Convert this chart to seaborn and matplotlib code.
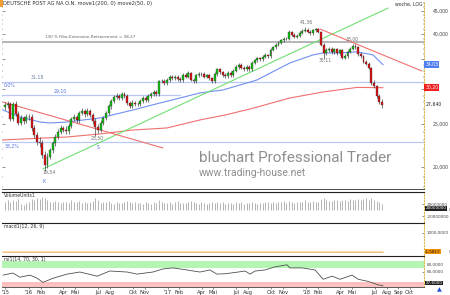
import numpy as np
import pandas as pd
import matplotlib
matplotlib.use("Agg")
import matplotlib.pyplot as plt
import matplotlib.ticker as mticker
import matplotlib.transforms as mtrans
import matplotlib.patches as mpatches
import seaborn as sns

sns.set_style("white")
plt.rcParams['font.family'] = ['DejaVu Sans']

# ---------------- data (weekly, first week = 2015-10-30) ----------------
start_date = "2015-10-30"
opens = [
27.3, 27.6, 27.8, 25.7, 27.8, 26.4, 25.2, 25.8, 25.4, 25.9,
26.0, 24.5, 23.6, 22.8, 22.7, 21.3, 20.2, 21.1, 21.8, 22.6,
23.4, 24.0, 24.5, 24.3, 24.1, 24.8, 25.7, 25.9, 25.5, 26.5,
26.8, 26.4, 26.8, 26.2, 25.4, 24.6, 24.3, 25.2, 25.8, 26.5,
27.4, 28.2, 28.8, 29.0, 28.6, 29.2, 29.0, 27.9, 27.5, 27.9,
27.8, 27.7, 28.2, 28.6, 28.3, 29.0, 29.3, 29.6, 29.3, 31.2,
31.3, 30.9, 31.4, 32.0, 31.7, 31.9, 31.6, 31.4, 32.3, 32.0,
32.6, 31.5, 31.3, 32.2, 32.5, 32.4, 32.0, 32.2, 31.7, 31.3,
32.4, 33.2, 32.7, 32.3, 32.1, 32.6, 32.3, 33.0, 33.6, 34.0,
33.5, 33.2, 33.6, 33.3, 34.4, 34.8, 35.2, 35.0, 35.5, 35.8,
35.6, 36.8, 37.3, 37.8, 38.2, 38.6, 38.9, 39.0, 40.4, 39.8,
39.4, 39.6, 40.2, 40.6, 40.8, 40.4, 40.1, 40.7, 40.9, 40.4,
37.8, 36.2, 36.8, 37.0, 36.4, 36.9, 36.2, 36.7, 35.3, 35.6,
36.4, 37.0, 37.6, 37.3, 36.0, 35.6, 34.6, 34.2, 33.5, 31.0,
30.5, 29.0, 28.0]
closes = [
27.6, 27.8, 25.7, 27.8, 26.4, 25.2, 25.8, 25.4, 25.9, 26.0,
24.5, 23.6, 22.8, 22.7, 21.3, 20.2, 21.1, 21.8, 22.6, 23.4,
24.0, 24.5, 24.3, 24.1, 24.8, 25.7, 25.9, 25.5, 26.5, 26.8,
26.4, 26.8, 26.2, 25.4, 24.6, 24.3, 25.2, 25.8, 26.5, 27.4,
28.2, 28.8, 29.0, 28.6, 29.2, 29.0, 27.9, 27.5, 27.9, 27.8,
27.7, 28.2, 28.6, 28.3, 29.0, 29.3, 29.6, 29.3, 31.2, 31.3,
30.9, 31.4, 32.0, 31.7, 31.9, 31.6, 31.4, 32.3, 32.0, 32.6,
31.5, 31.3, 32.2, 32.5, 32.4, 32.0, 32.2, 31.7, 31.3, 32.4,
33.2, 32.7, 32.3, 32.1, 32.6, 32.3, 33.0, 33.6, 34.0, 33.5,
33.2, 33.6, 33.3, 34.4, 34.8, 35.2, 35.0, 35.5, 35.8, 35.6,
36.8, 37.3, 37.8, 38.2, 38.6, 38.9, 39.0, 40.4, 39.8, 39.4,
39.6, 40.2, 40.6, 40.8, 40.4, 40.1, 40.7, 40.9, 40.4, 37.8,
36.2, 36.8, 37.0, 36.4, 36.9, 36.2, 36.7, 35.3, 35.6, 36.4,
37.0, 37.6, 37.3, 36.0, 35.6, 34.6, 34.2, 33.5, 31.0, 30.5,
29.0, 28.0, 27.64]
highs = [
28.0, 28.2, 28.1, 28.1, 28.2, 26.7, 26.2, 26.1, 26.3, 26.4,
26.3, 24.9, 24.0, 23.4, 23.0, 21.7, 21.5, 22.1, 22.9, 23.7,
24.4, 24.9, 24.8, 24.7, 25.1, 26.0, 26.3, 26.2, 26.8, 27.2,
27.1, 27.2, 27.0, 26.5, 25.8, 25.0, 25.5, 26.1, 26.8, 27.7,
28.5, 29.1, 29.4, 29.3, 29.6, 29.5, 29.3, 28.2, 28.3, 28.2,
28.1, 28.5, 29.0, 28.9, 29.3, 29.6, 29.9, 29.8, 31.5, 31.6,
31.6, 31.7, 32.3, 32.3, 32.2, 32.2, 31.9, 32.6, 32.6, 33.0,
32.8, 31.8, 32.5, 32.8, 32.8, 32.7, 32.5, 32.5, 32.0, 32.7,
33.5, 33.5, 33.0, 32.6, 32.9, 32.9, 33.3, 33.9, 34.3, 34.3,
33.8, 33.9, 33.9, 34.7, 35.1, 35.5, 35.5, 35.8, 36.1, 36.0,
37.1, 37.6, 38.1, 38.5, 38.9, 39.3, 39.4, 40.7, 40.6, 40.1,
39.9, 40.5, 40.9, 41.36, 41.1, 40.7, 41.0, 41.2, 41.1, 40.6,
38.1, 37.2, 37.4, 37.3, 37.2, 37.2, 37.0, 36.9, 35.9, 36.7,
37.4, 38.0, 37.9, 37.5, 36.3, 35.8, 34.9, 34.5, 33.7, 31.5,
30.7, 29.3, 28.5]
lows = [
26.9, 27.2, 25.4, 25.4, 26.1, 24.9, 24.9, 25.0, 25.1, 25.5,
24.1, 23.2, 22.4, 22.2, 21.0, 19.54, 19.9, 20.8, 21.5, 22.3,
23.1, 23.7, 24.0, 23.7, 23.8, 24.5, 25.4, 25.2, 25.2, 26.2,
26.0, 26.1, 25.9, 25.0, 23.50, 23.9, 24.0, 24.9, 25.5, 26.2,
27.1, 27.9, 28.5, 28.3, 28.3, 28.7, 27.6, 27.2, 27.2, 27.5,
27.4, 27.4, 27.9, 28.0, 28.0, 28.7, 29.0, 29.0, 29.0, 30.9,
30.6, 30.6, 31.1, 31.4, 31.4, 31.3, 31.1, 31.1, 31.7, 31.7,
31.2, 31.0, 31.0, 31.9, 32.1, 31.7, 31.7, 31.4, 31.0, 31.0,
32.1, 32.4, 32.0, 31.8, 31.8, 32.0, 32.0, 32.7, 33.3, 33.2,
32.9, 32.9, 33.0, 33.0, 34.1, 34.5, 34.7, 34.7, 35.2, 35.3,
35.3, 36.5, 37.0, 37.5, 37.9, 38.3, 38.6, 38.7, 39.5, 39.1,
39.1, 39.3, 39.9, 40.3, 40.1, 39.8, 39.8, 40.4, 40.1, 37.5,
35.11, 35.8, 36.4, 36.0, 36.0, 35.8, 35.8, 35.0, 35.0, 35.3,
36.1, 36.7, 37.0, 35.7, 35.3, 34.3, 33.9, 33.2, 30.6, 30.1,
28.7, 27.7, 27.2]
volume_mio = [
30, 34, 28, 36, 31, 38, 22, 18, 26, 30,
40, 36, 42, 38, 45, 43, 36, 30, 28, 33,
27, 25, 30, 28, 26, 34, 29, 27, 31, 25,
28, 24, 30, 33, 41, 36, 26, 29, 27, 31,
25, 23, 27, 24, 26, 30, 32, 27, 25, 28,
24, 26, 22, 27, 25, 23, 29, 24, 35, 28,
26, 25, 27, 22, 28, 33, 24, 26, 25, 29,
31, 27, 24, 22, 28, 25, 23, 26, 30, 24,
27, 25, 28, 23, 26, 24, 22, 29, 25, 27,
23, 26, 24, 28, 25, 22, 26, 24, 30, 27,
25, 28, 26, 29, 27, 31, 26, 33, 28, 26,
27, 30, 29, 34, 28, 27, 31, 29, 30, 38,
41, 35, 33, 31, 36, 34, 32, 37, 35, 33,
39, 36, 34, 40, 37, 38, 42, 35, 43, 36,
33, 30, 22]

# moving averages read at sample weeks
ma200_wk = [-0.8, 23.4, 35.8, 48.2, 61.0, 73.4, 82.9, 92.3, 107.3, 119.8, 132.6, 142.4]
ma200_val = [23.02, 23.38, 23.75, 24.24, 24.5, 25.54, 26.21, 27.04, 28.63, 29.54, 30.25, 30.20]
ma50_wk = [-0.8, 5.6, 13.2, 16.9, 23.4, 35.8, 48.2, 58.4, 65.9, 73.4, 82.1, 94.9, 107.3, 116.0, 119.8, 126.2, 132.6, 138.6, 142.4]
ma50_val = [26.9, 25.94, 25.27, 25.14, 25.27, 25.81, 26.9, 27.9, 28.63, 29.39, 29.85, 31.44, 34.35, 35.81, 36.19, 36.19, 36.38, 35.81, 34.03]

# trend lines (week, price)
green_tl_wk, green_tl_val = [14.3, 144.3], [19.8, 45.7]
red_tl1_wk, red_tl1_val = [-0.8, 59.5], [28.04, 22.08]
red_tl2_wk, red_tl2_val = [118.6, 157.0], [40.98, 32.94]

fibo_ext = 38.27
fib_levels = [31.18, 29.10, 22.81]

rsi_wk = [-0.8, 3.0, 5.6, 9.4, 12.1, 14.3, 18.1, 23.4, 28.2, 34.7, 39.5, 46.0, 49.7, 55.7, 59.5, 63.3,
          68.5, 73.4, 77.2, 79.8, 82.9, 87.8, 90.4, 92.3, 94.2, 97.9, 101.7, 106.2, 107.3, 111.9,
          116.8, 119.8, 123.2, 126.2, 130.7, 133.0, 136.7, 140.5, 142.4]
rsi_val = [50, 56, 44, 50, 41, 29, 41, 53, 59, 47, 62, 59, 53, 59, 68, 71,
           65, 59, 65, 53, 54, 59, 62, 53, 62, 65, 74, 80, 71, 71,
           65, 38, 47, 38, 50, 38, 32, 22, 19]
macd_wk = [-0.8, 142.4]
macd_val = [0.0, -1.58]

tick_dates = ["2015-10-30", "2016-01-01", "2016-02-01", "2016-04-01", "2016-05-01", "2016-07-01", "2016-08-01",
              "2016-10-01", "2016-11-01", "2017-01-01", "2017-02-01", "2017-04-01", "2017-05-01", "2017-07-01",
              "2017-08-01", "2017-10-01", "2017-11-01", "2018-01-01", "2018-02-01", "2018-04-01", "2018-05-01",
              "2018-07-01", "2018-08-01", "2018-09-01", "2018-10-01"]
tick_labels = ["'15", "'16", "Feb", "Apr", "Mai", "Jul", "Aug", "Okt", "Nov", "'17", "Feb", "Apr", "Mai",
               "Jul", "Aug", "Okt", "Nov", "'18", "Feb", "Apr", "Mai", "Jul", "Aug", "Sep", "Okt"]

# ---------------- figure ----------------
start = pd.Timestamp(start_date)
def wk(d):
    return (pd.Timestamp(d) - start).days / 7.0

W, H = 450, 295
fig = plt.figure(figsize=(4.5, 2.95), dpi=100)
fig.patch.set_facecolor("white")
def rect(x0, y0, x1, y1):
    return [x0 / W, 1 - y1 / H, (x1 - x0) / W, (y1 - y0) / H]

ax = fig.add_axes(rect(2, 2, 424, 189))
axv = fig.add_axes(rect(2, 192, 424, 221.5), sharex=ax)
axm = fig.add_axes(rect(2, 222.5, 424, 254.5), sharex=ax)
axr = fig.add_axes(rect(2, 255.5, 424, 286.5), sharex=ax)

FS = 3.3
FSS = 3.0
YEL = "#D8B848"
weeks = np.arange(len(closes))
o = np.array(opens); c = np.array(closes); hi = np.array(highs); lo = np.array(lows)

ax.set_yscale("log")
ax.set_ylim(17.84, 47.15)
ax.set_xlim(-1.13, 157.8)

# horizontal lines
ax.axhline(fibo_ext, color="#A8A8A8", lw=1.2, zorder=1)
ax.axhline(fib_levels[0], color="#B8C8F4", lw=0.9, zorder=1)
ax.plot([-1.13, 65.9], [fib_levels[1]] * 2, color="#B8C8F4", lw=0.9, zorder=1)
ax.axhline(fib_levels[2], color="#B8C8F4", lw=0.9, zorder=1)

# moving averages and trend lines
sns.lineplot(x=ma200_wk, y=ma200_val, ax=ax, color="#F07070", lw=0.8, zorder=2)
sns.lineplot(x=ma50_wk, y=ma50_val, ax=ax, color="#7090F0", lw=0.8, zorder=2)
sns.lineplot(x=green_tl_wk, y=green_tl_val, ax=ax, color="#70E070", lw=0.8, zorder=2)
sns.lineplot(x=red_tl1_wk, y=red_tl1_val, ax=ax, color="#F07070", lw=0.8, zorder=2)
sns.lineplot(x=red_tl2_wk, y=red_tl2_val, ax=ax, color="#F07070", lw=0.8, zorder=2)

# candles
up = c >= o
body_col = np.where(up, "#10C010", "#E01010")
ax.vlines(weeks, lo, hi, color="#303030", lw=0.45, zorder=3)
ax.bar(weeks, np.maximum(np.abs(c - o), 0.06), bottom=np.minimum(o, c), width=0.72,
       color=body_col, edgecolor="#303030", linewidth=0.25, zorder=4)

# axis styling main
ax.set_xlabel(""); ax.set_ylabel("")
ax.yaxis.tick_right()
ax.set_yticks([20, 25, 30, 35, 40, 45])
ax.set_yticklabels(["20,000", "25,000", "", "", "40,000", "45,000"])
ax.yaxis.set_minor_locator(mticker.FixedLocator(np.arange(18, 48, 1)))
ax.yaxis.set_minor_formatter(mticker.NullFormatter())
ax.tick_params(axis="y", which="major", length=2.0, width=0.4, pad=6, labelsize=FS, colors="#404040")
ax.tick_params(axis="y", which="minor", length=1.0, width=0.3, color="#404040")
ax.tick_params(axis="y", which="both", left=True, right=True, labelleft=False, labelright=True, direction="in")
ax.tick_params(axis="x", which="both", bottom=False, labelbottom=False)
for s in ["top", "left"]:
    ax.spines[s].set_visible(False)
ax.spines["right"].set_color(YEL); ax.spines["right"].set_linestyle(":"); ax.spines["right"].set_linewidth(0.8)
ax.spines["bottom"].set_color("#303030"); ax.spines["bottom"].set_linewidth(0.6)

# annotations main
tr = mtrans.blended_transform_factory(ax.transAxes, ax.transData)
ax.text(1.003, 34.03, "34,03", transform=tr, fontsize=FS, color="white", va="center", ha="left",
        bbox=dict(boxstyle="square,pad=0.2", fc="#4F7FF0", ec="none"), zorder=10)
ax.text(1.003, 30.20, "30,20", transform=tr, fontsize=FS, color="white", va="center", ha="left",
        bbox=dict(boxstyle="square,pad=0.2", fc="#F02020", ec="none"), zorder=10)
ax.text(1.003, 27.64, "27,640", transform=tr, fontsize=FS, color="#202020", va="center", ha="left", zorder=10)
ax.text(0.003, 0.99, "DEUTSCHE POST AG NA O.N. move1(200, 0) move2(50, 0)", transform=ax.transAxes,
        fontsize=3.7, color="#303030", va="center", ha="left")
ax.text(0.931, 0.99, "woche, LOG", transform=ax.transAxes, fontsize=FS, color="#303030", va="center", ha="left")
ax.text(15.2, 38.9, "130 % Fibo-Extension-Retracement = 38,27", fontsize=FSS, color="#606060", va="bottom", ha="left")
ax.text(9.5, 31.45, "31,18", fontsize=FS, color="#7080A0", va="bottom", ha="left")
ax.text(-0.5, 30.6, "0,0%", fontsize=FS, color="#5070E0", va="center", ha="left")
ax.text(18.5, 29.3, "29,10", fontsize=FS, color="#5070E0", va="bottom", ha="left")
ax.text(0.0, 22.3, "38,2%", fontsize=FS, color="#5070E0", va="center", ha="left")
ax.text(113.4, 42.5, "41,36", fontsize=FS, color="#707070", va="center", ha="center")
ax.text(130.7, 38.9, "38,00", fontsize=FS, color="#707070", va="center", ha="center")
ax.text(120.5, 34.9, "35,11", fontsize=FS, color="#707070", va="center", ha="center")
ax.text(34.7, 23.26, "23,50", fontsize=FS, color="#707070", va="center", ha="center")
ax.text(35.0, 22.19, "S", fontsize=FS, color="#5070E0", va="center", ha="center")
ax.text(16.6, 19.42, "19,54", fontsize=FS, color="#707070", va="center", ha="center")
ax.text(14.8, 18.53, "K", fontsize=FS, color="#5070E0", va="center", ha="center")

fig.text(199 / W, 1 - 158 / H, "bluchart Professional Trader", fontsize=11, color="#8E8E8E",
         family="Roboto", va="center", ha="left")
fig.text(199 / W, 1 - 173 / H, "www.trading-house.net", fontsize=7.5, color="#8E8E8E",
         family="Roboto", va="center", ha="left")

# volume panel
axv.vlines(weeks, 0, np.array(volume_mio) * 1e6, color="#A8A8A8", lw=0.6)
axv.set_ylim(-38.5e6, 63e6)
axv.set_yticks([-20e6, 20e6])
axv.set_yticklabels(["-20000000", "20000000"])
axv.text(0.005, 0.88, "VolumeUnits1", transform=axv.transAxes, fontsize=FS, color="#303030", va="center")
trv = mtrans.blended_transform_factory(axv.transAxes, axv.transData)
axv.text(1.003, 7e6, "20000000", transform=trv, fontsize=FSS, color="white", va="center", ha="left",
         bbox=dict(boxstyle="square,pad=0.1", fc="#202020", ec="none"))
axv.text(1.058, 0, "0", transform=trv, fontsize=FSS, color="#404040", va="center", ha="left")

# macd panel
sns.lineplot(x=macd_wk, y=macd_val, ax=axm, color="#F5B870", lw=1.0)
axm.set_ylim(-117, 1508)
axm.set_yticks([1000])
axm.set_yticklabels(["1000,0000"])
axm.text(0.005, 0.88, "macd1(12, 26, 9)", transform=axm.transAxes, fontsize=FS, color="#303030", va="center")
trm = mtrans.blended_transform_factory(axm.transAxes, axm.transData)
axm.text(1.003, 20, "-1,5817", transform=trm, fontsize=FSS, color="#202020", va="center", ha="left",
         bbox=dict(boxstyle="square,pad=0.1", fc="#F09000", ec="none"))
axm.text(1.058, 20, "0", transform=trm, fontsize=FSS, color="#404040", va="center", ha="left")

# rsi panel
axr.axhspan(70, 92, color="#B4F5B4", lw=0)
axr.axhspan(10, 30, color="#FFC0C0", lw=0)
sns.lineplot(x=rsi_wk, y=rsi_val, ax=axr, color="#505050", lw=0.6)
axr.set_ylim(17, 107)
axr.set_yticks([60, 80])
axr.set_yticklabels(["60,0000", "80,0000"])
axr.text(0.005, 0.88, "rsi1(14, 70, 30, 1)", transform=axr.transAxes, fontsize=FS, color="#303030", va="center")
trr = mtrans.blended_transform_factory(axr.transAxes, axr.transData)
axr.text(1.003, 27, "27,6000", transform=trr, fontsize=FSS, color="white", va="center", ha="left",
         bbox=dict(boxstyle="square,pad=0.1", fc="#202020", ec="none"))

for a in (axv, axm, axr):
    a.set_xlabel(""); a.set_ylabel("")
    a.yaxis.tick_right()
    a.tick_params(axis="y", which="both", length=1.5, width=0.4, pad=2, labelsize=FSS, colors="#404040", direction="in")
    a.spines["left"].set_visible(False)
    a.spines["bottom"].set_visible(False)
    a.spines["top"].set_color("#202020"); a.spines["top"].set_linewidth(0.8)
    a.spines["right"].set_color(YEL); a.spines["right"].set_linestyle(":"); a.spines["right"].set_linewidth(0.8)
    a.tick_params(axis="x", which="both", bottom=False, labelbottom=False)

axr.spines["bottom"].set_visible(True)
axr.spines["bottom"].set_color("#404040"); axr.spines["bottom"].set_linewidth(0.6)
axr.set_xticks([wk(d) for d in tick_dates])
axr.set_xticklabels(tick_labels)
axr.tick_params(axis="x", which="both", bottom=True, labelbottom=True, length=1.5, width=0.4,
                labelsize=FS + 0.4, pad=1, colors="#303030")
axr.set_xlim(-1.13, 157.8)

# decorations: orange corner mark and blue arrow icon
fig.patches.append(mpatches.Rectangle((0, 1 - 7 / H), 3 / W, 7 / H, transform=fig.transFigure,
                                      fc="#F0A030", ec="none"))
fig.text(439 / W, 1 - 290 / H, "▲", fontsize=4.5, color="#2050D0", ha="center", va="center")

fig.savefig("out.png", dpi=100)
